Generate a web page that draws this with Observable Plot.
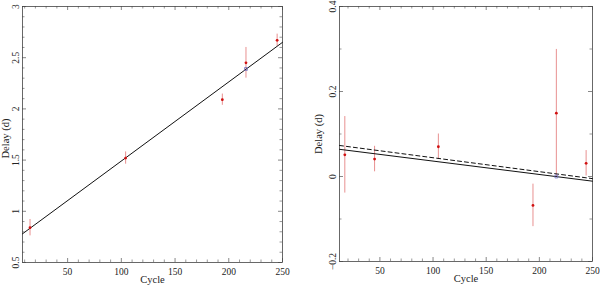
<!DOCTYPE html>
<html>
<head>
<meta charset="utf-8">
<script src="https://cdn.jsdelivr.net/npm/d3@7"></script>
<script src="https://cdn.jsdelivr.net/npm/@observablehq/plot@0.6"></script>
<style>
  html, body { margin: 0; padding: 0; background: #fff; }
  #wrap { display: flex; width: 600px; height: 289px; }
  #wrap > div { width: 300px; height: 289px; }
</style>
</head>
<body>
<div id="wrap"><div id="left"></div><div id="right"></div></div>
<script>
// ---- Data ----
const xLabel = "Cycle";
const yLabel = "Delay (d)";

// Left panel
const leftCycle = [15, 104, 194, 216, 245];
const leftDelay = [0.84, 1.52, 2.09, 2.45, 2.67];
const leftErr   = [0.08, 0.06, 0.055, 0.15, 0.06];
const leftFitCycle = [8, 250];
const leftFitDelay = [0.78, 2.65];
const leftModelCycle = [216];
const leftModelDelay = [2.39];
const leftXTicks = [50, 100, 150, 200, 250];
const leftYTicks = [0.5, 1, 1.5, 2, 2.5, 3];
const leftYTickLabels = ["0.5", "1", "1.5", "2", "2.5", "3"];

// Right panel
const rightCycle = [17, 45, 105, 194, 216, 244];
const rightDelay = [0.051, 0.041, 0.070, -0.068, 0.149, 0.031];
const rightErr   = [0.09, 0.03, 0.03, 0.05, 0.15, 0.03];
const rightFitCycle = [12, 250];
const rightFitDelay = [0.064, -0.011];
const rightFit2Cycle = [12, 250];
const rightFit2Delay = [0.073, -0.005];
const rightModelCycle = [216];
const rightModelDelay = [0.0];
const rightXTicks = [50, 100, 150, 200, 250];
const rightYTicks = [-0.2, 0, 0.2, 0.4];
const rightYTickLabels = ["\u22120.2", "0", "0.2", "0.4"];

const font = "'Liberation Serif', 'DejaVu Serif', serif";

function panel(opts) {
  const W = 300, H = 289;
  const {ml, mr, mt, mb, xd, yd, xTicks, xMinor, yTicks, yMinor, yTickLabels} = opts;
  const iw = W - ml - mr, ih = H - mt - mb;
  const pts = opts.cycle.map((c, i) => ({c, d: opts.delay[i], e: opts.err[i]}));
  const fit = opts.fitCycle.map((c, i) => ({c, d: opts.fitDelay[i]}));
  const fit2 = opts.fit2Cycle ? opts.fit2Cycle.map((c, i) => ({c, d: opts.fit2Delay[i]})) : [];
  const model = opts.modelCycle.map((c, i) => ({c, d: opts.modelDelay[i]}));
  const lblMap = new Map(yTicks.map((t, i) => [t, yTickLabels[i]]));
  const tickCol = "#555";
  const maj = 4, mnr = 2.5;
  return Plot.plot({
    width: W, height: H,
    marginLeft: ml, marginRight: mr, marginTop: mt, marginBottom: mb,
    x: {domain: xd},
    y: {domain: yd},
    style: {fontFamily: font, background: "#fff"},
    marks: [
      // inward ticks on all four sides
      Plot.ruleX(xTicks, {x: d => d, insetTop: ih - maj, stroke: tickCol, strokeWidth: 0.7}),
      Plot.ruleX(xTicks, {x: d => d, insetBottom: ih - maj, stroke: tickCol, strokeWidth: 0.7}),
      Plot.ruleX(xMinor, {x: d => d, insetTop: ih - mnr, stroke: tickCol, strokeWidth: 0.6}),
      Plot.ruleX(xMinor, {x: d => d, insetBottom: ih - mnr, stroke: tickCol, strokeWidth: 0.6}),
      Plot.ruleY(yTicks, {y: d => d, insetRight: iw - maj, stroke: tickCol, strokeWidth: 0.7}),
      Plot.ruleY(yTicks, {y: d => d, insetLeft: iw - maj, stroke: tickCol, strokeWidth: 0.7}),
      Plot.ruleY(yMinor, {y: d => d, insetRight: iw - mnr, stroke: tickCol, strokeWidth: 0.6}),
      Plot.ruleY(yMinor, {y: d => d, insetLeft: iw - mnr, stroke: tickCol, strokeWidth: 0.6}),
      Plot.frame({stroke: "#444", strokeWidth: 0.8}),
      Plot.axisX({ticks: xTicks, tickSize: 0, tickPadding: 6, tickFormat: d => String(d),
        fontSize: 9.5, fill: "#222", label: null}),
      Plot.axisY({ticks: yTicks, tickSize: 0, tickRotate: -90, tickPadding: 4,
        tickFormat: d => lblMap.get(d), fontSize: 9.5, fill: "#222", label: null}),
      // error bars
      Plot.ruleX(pts, {x: "c", y1: d => d.d - d.e, y2: d => d.d + d.e, stroke: "#e89090", strokeWidth: 1}),
      // fit lines
      Plot.line(fit, {x: "c", y: "d", stroke: "#111", strokeWidth: 1}),
      ...(fit2.length ? [Plot.line(fit2, {x: "c", y: "d", stroke: "#111", strokeWidth: 1, strokeDasharray: "4,3"})] : []),
      // model marker
      Plot.dot(model, {x: "c", y: "d", symbol: "square", r: 1.6, stroke: "#7070c0", strokeWidth: 0.8, fill: "none"}),
      // data points
      Plot.dot(pts, {x: "c", y: "d", r: 1.4, fill: "#d01010", stroke: "none"}),
      // axis titles
      Plot.text([xLabel], {frameAnchor: "bottom", textAnchor: "middle", dy: opts.xLabelDy, text: d => d, fontSize: 10.5, fill: "#222"}),
      Plot.text([yLabel], {frameAnchor: "left", textAnchor: "middle", dx: opts.yLabelDx, dy: opts.yLabelDy, rotate: -90, text: d => d, fontSize: 10.5, fill: "#222"})
    ]
  });
}

document.getElementById("left").append(panel({
  ml: 22, mr: 18, mt: 6, mb: 27,
  xd: [8, 250], yd: [0.5, 3],
  xTicks: leftXTicks, xMinor: d3.range(10, 250, 10).filter(v => v % 50 !== 0),
  yTicks: leftYTicks, yMinor: d3.range(0.6, 3, 0.1).filter(v => Math.abs(v * 2 - Math.round(v * 2)) > 1e-6),
  yTickLabels: leftYTickLabels,
  cycle: leftCycle, delay: leftDelay, err: leftErr,
  fitCycle: leftFitCycle, fitDelay: leftFitDelay,
  modelCycle: leftModelCycle, modelDelay: leftModelDelay,
  xLabelDy: 20, yLabelDx: -17, yLabelDy: 4
}));

document.getElementById("right").append(panel({
  ml: 39, mr: 8, mt: 6, mb: 28,
  xd: [12, 250], yd: [-0.2, 0.4],
  xTicks: rightXTicks, xMinor: d3.range(20, 250, 10).filter(v => v % 50 !== 0),
  yTicks: rightYTicks, yMinor: [-0.1, 0.1, 0.3],
  yTickLabels: rightYTickLabels,
  cycle: rightCycle, delay: rightDelay, err: rightErr,
  fitCycle: rightFitCycle, fitDelay: rightFitDelay,
  fit2Cycle: rightFit2Cycle, fit2Delay: rightFit2Delay,
  modelCycle: rightModelCycle, modelDelay: rightModelDelay,
  xLabelDy: 20, yLabelDx: -21, yLabelDy: 0
}));
</script>
</body>
</html>
